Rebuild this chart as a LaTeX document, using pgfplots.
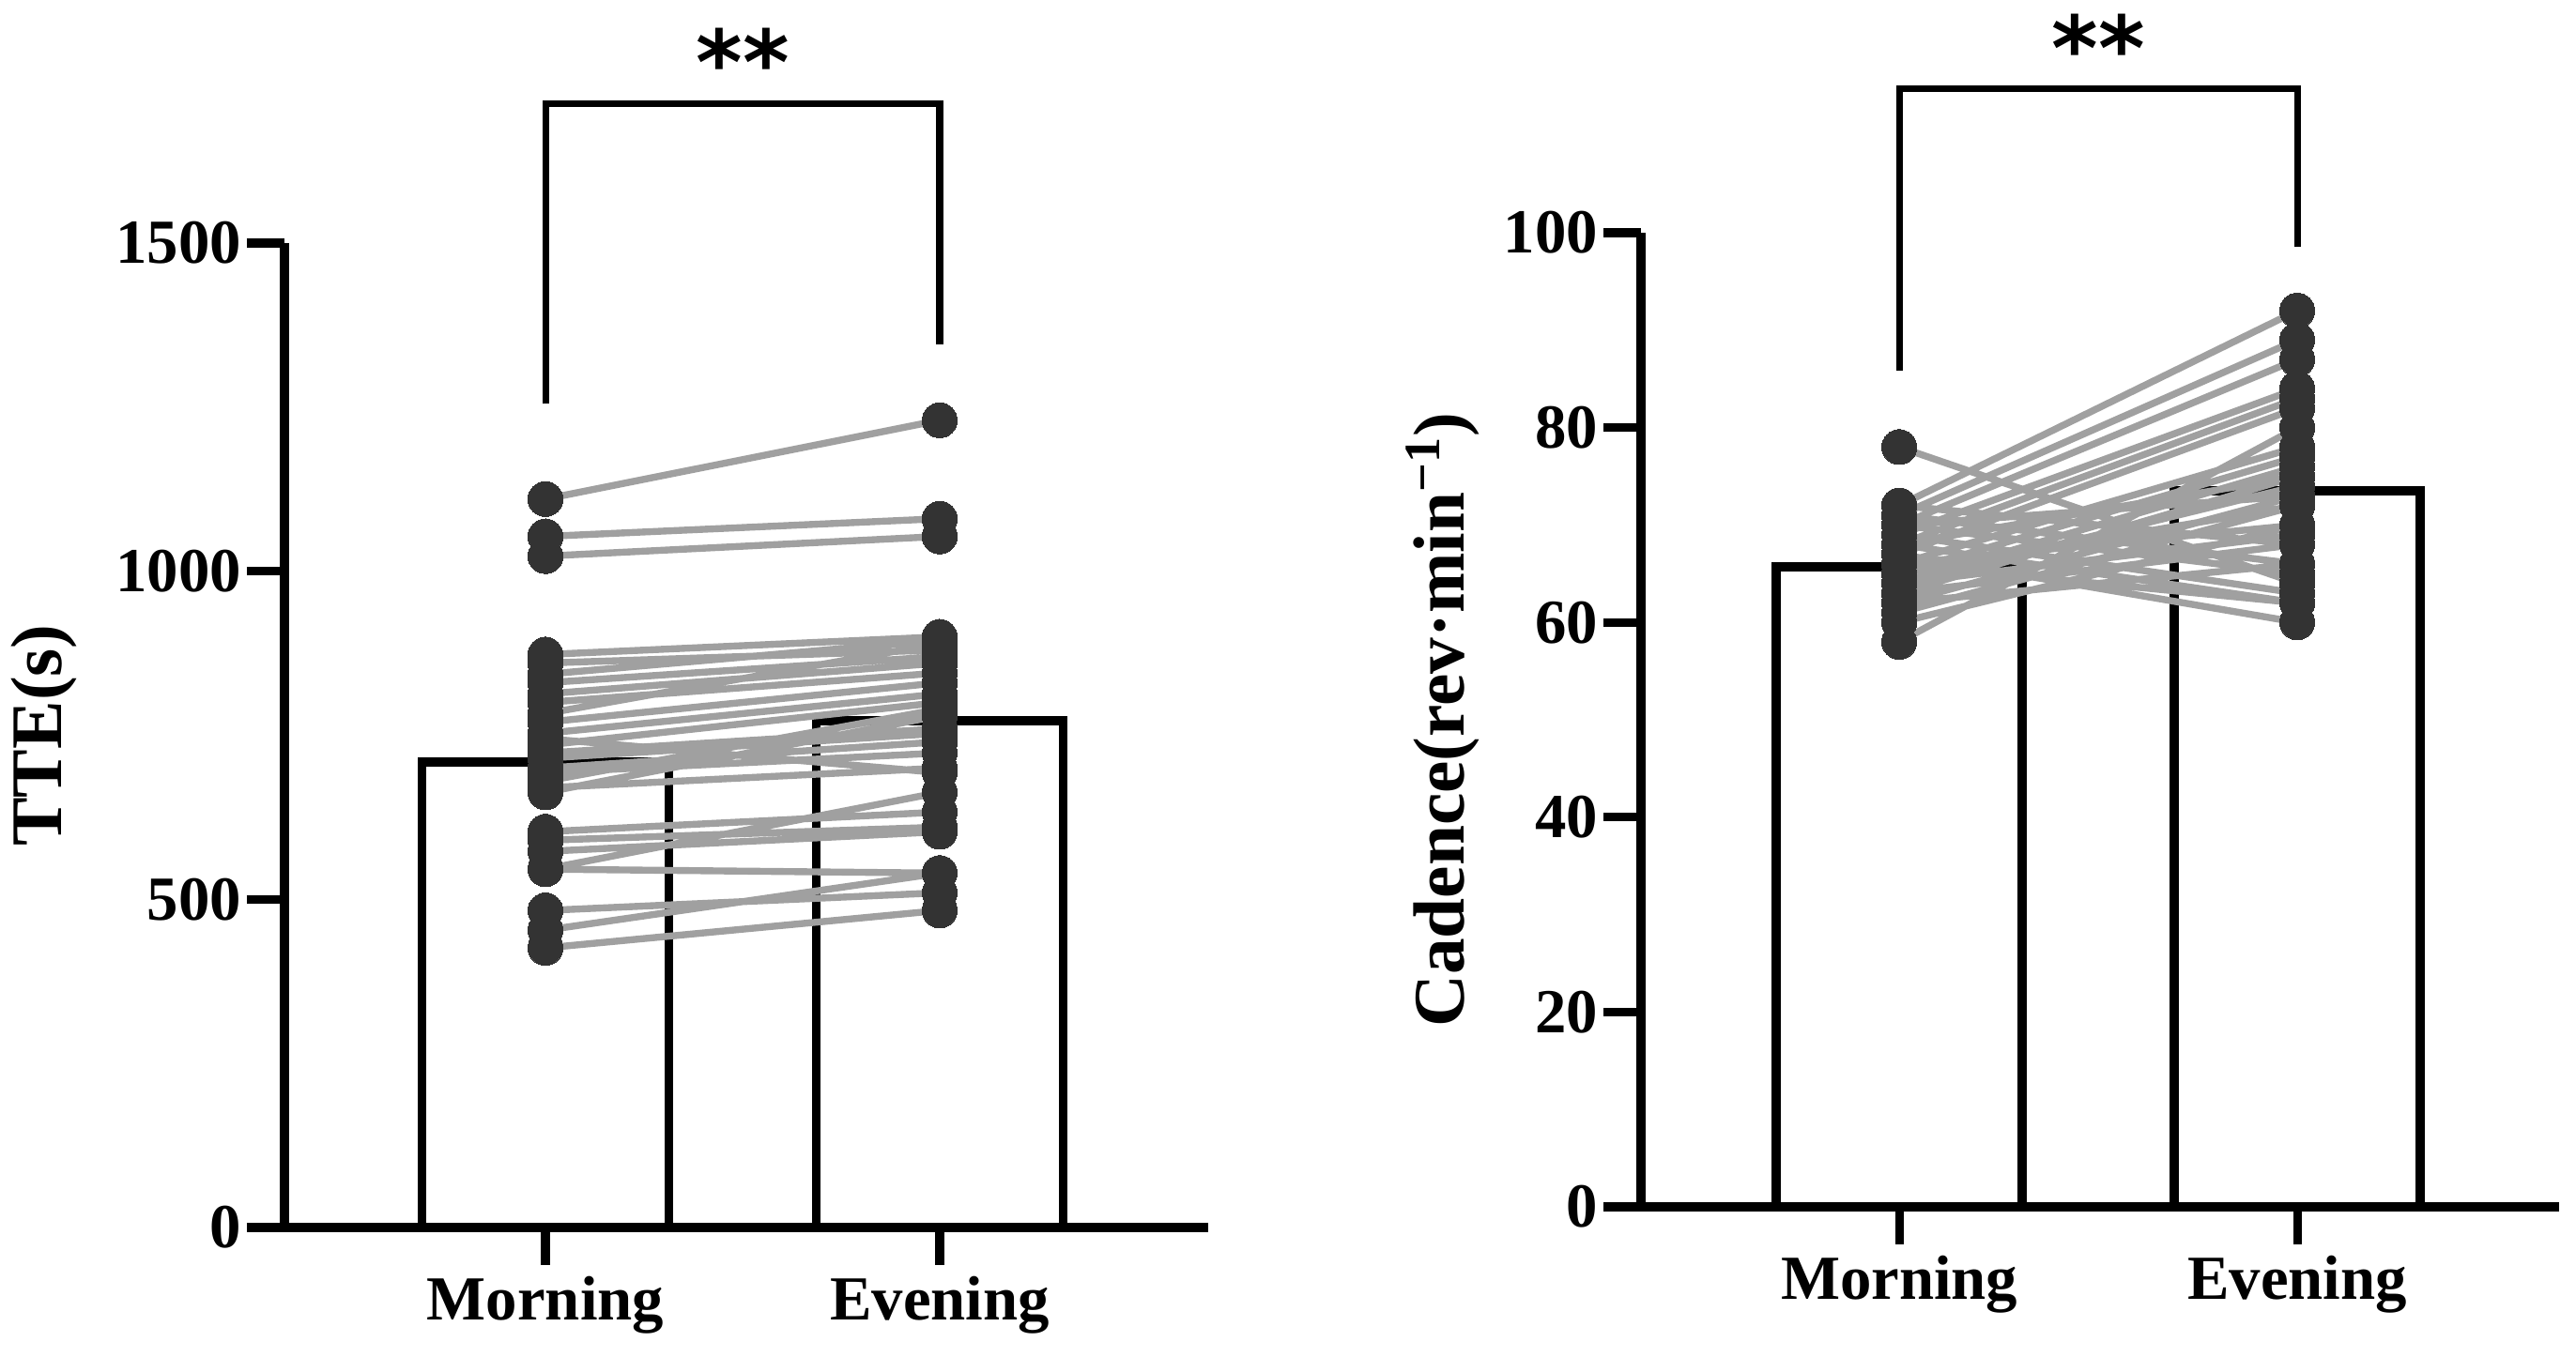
\documentclass[border=0pt]{standalone}
\usepackage{pgfplots}
\pgfplotsset{compat=1.18}
\usepackage{pgfplotstable}
\usepackage{fontspec}
\setmainfont{Liberation Serif}
\newfontfamily\starfont{DejaVu Sans}

\definecolor{dotgray}{HTML}{333333}
\definecolor{linegray}{HTML}{A0A0A0}

% paired subjects: x=0 morning, x=1 evening, nan breaks the line
\pgfplotstableread{
x y
0 1110
1 1230
nan nan
0 1053
1 1080
nan nan
0 1023
1 1053
nan nan
0 873
1 900
nan nan
0 860
1 880
nan nan
0 843
1 895
nan nan
0 830
1 870
nan nan
0 813
1 860
nan nan
0 800
1 845
nan nan
0 783
1 890
nan nan
0 770
1 830
nan nan
0 753
1 813
nan nan
0 745
1 693
nan nan
0 735
1 800
nan nan
0 723
1 760
nan nan
0 715
1 753
nan nan
0 700
1 740
nan nan
0 693
1 723
nan nan
0 680
1 790
nan nan
0 670
1 700
nan nan
0 663
1 780
nan nan
0 603
1 633
nan nan
0 590
1 610
nan nan
0 573
1 603
nan nan
0 546
1 540
nan nan
0 546
1 663
nan nan
0 483
1 510
nan nan
0 453
1 540
nan nan
0 426
1 483
}\ttedata

\pgfplotstableread{
x y
0 78
1 64
nan nan
0 72
1 92
nan nan
0 71
1 89
nan nan
0 70
1 87
nan nan
0 69
1 84
nan nan
0 68
1 83
nan nan
0 67
1 82
nan nan
0 66
1 78
nan nan
0 65
1 77
nan nan
0 64
1 76
nan nan
0 63
1 75
nan nan
0 62
1 73
nan nan
0 61
1 72
nan nan
0 60
1 70
nan nan
0 58
1 80
nan nan
0 72
1 68
nan nan
0 71
1 66
nan nan
0 70
1 65
nan nan
0 69
1 63
nan nan
0 68
1 62
nan nan
0 67
1 60
nan nan
0 66
1 70
nan nan
0 65
1 72
nan nan
0 64
1 74
nan nan
0 63
1 68
nan nan
0 62
1 66
nan nan
0 70
1 73
nan nan
0 68
1 75
nan nan
0 66
1 62
nan nan
0 64
1 69
}\cadencedata

\pgfplotsset{
  panel/.style={
    scale only axis,
    axis x line=bottom, axis y line=left,
    axis line style={-, line width=2.6pt},
    major tick style={line width=2.6pt, black},
    major tick length=0.4cm, tick align=outside,
    xtick={0,1}, xticklabels={Morning,Evening},
    ymin=0, clip=false,
    /pgf/number format/assume math mode=true,
    /pgf/number format/1000 sep={},
    ticklabel style={font=\fontsize{19}{22}\selectfont\bfseries},
    yticklabel style={inner sep=1.5pt},
    ylabel style={font=\fontsize{22}{26}\selectfont\bfseries, anchor=center},
  },
  pairline/.style={linegray, line width=2.1pt, unbounded coords=jump, mark=none},
  pairdot/.style={only marks, mark=*, mark size=5.3pt,
    mark options={fill=dotgray, draw=dotgray, line width=0pt}},
  meanbar/.style={ybar, fill=white, draw=black, line width=2.8pt, line join=miter},
  bracket/.style={black, line width=2pt, mark=none, line join=miter},
}
\tikzset{stars/.style={font=\fontsize{27}{27}\selectfont\starfont\bfseries, anchor=center}}

\begin{document}
\begin{tikzpicture}
\path[use as bounding box] (-3.03cm,-1.38cm) rectangle (24.41cm,13.08cm);

\begin{axis}[panel,
  at={(0cm,0cm)}, anchor=south west,
  width=9.84cm, height=10.49cm,
  xmin=-0.662, xmax=1.681, ymax=1500,
  ytick={0,500,1000,1500},
  ylabel={TTE(s)},
  ylabel style={at={(axis description cs:-0.26,0.5)}},
]
\addplot[meanbar, bar width=0.626] coordinates {(0,709) (1,772)};
\addplot[pairline] table {\ttedata};
\addplot[pairdot] table {\ttedata};
\addplot[bracket] coordinates {(0,1255) (0,1713) (1,1713) (1,1345)};
\node[stars] at (axis cs:0.5,1777) {**};
\end{axis}

\begin{axis}[panel,
  at={(14.45cm,0.22cm)}, anchor=south west,
  width=9.78cm, height=10.38cm,
  xmin=-0.649, xmax=1.658, ymax=100,
  ytick={0,20,40,60,80,100},
  ylabel={Cadence(rev·min\textsuperscript{−1})},
  ylabel style={at={(axis description cs:-0.216,0.5)}},
]
\addplot[meanbar, bar width=0.618] coordinates {(0,65.7) (1,73.5)};
\addplot[pairline] table {\cadencedata};
\addplot[pairdot] table {\cadencedata};
\addplot[bracket] coordinates {(0,85.8) (0,114.8) (1,114.8) (1,98.6)};
\node[stars] at (axis cs:0.5,119) {**};
\end{axis}
\end{tikzpicture}
\end{document}
